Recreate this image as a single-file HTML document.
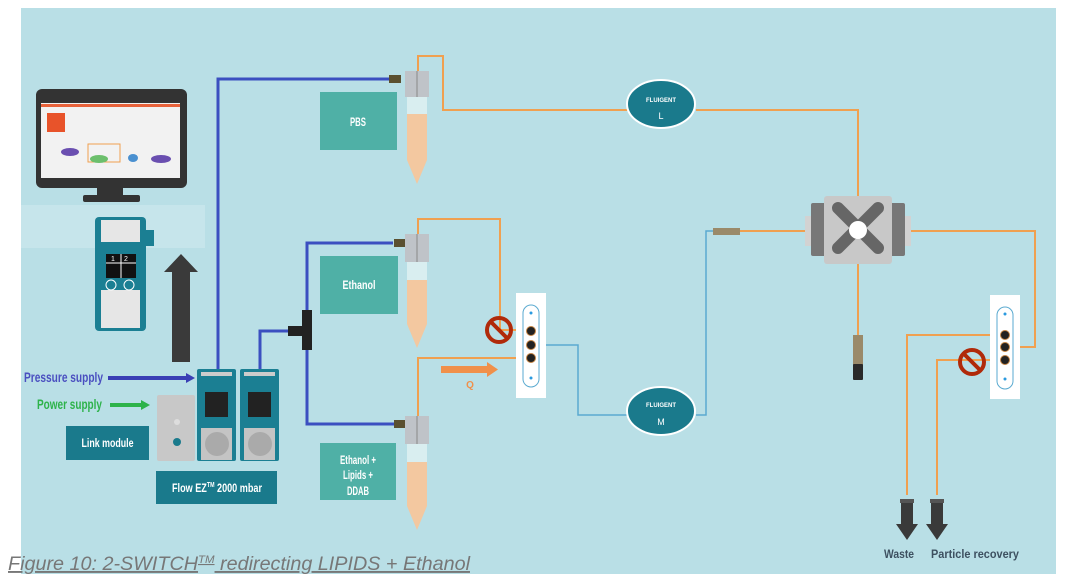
<!DOCTYPE html>
<html><head><meta charset="utf-8"><style>
html,body{margin:0;padding:0;background:#fff;width:1065px;height:586px;overflow:hidden}
svg{display:block}
.c{font-family:"Liberation Sans Narrow","Liberation Sans",sans-serif;font-weight:bold}
</style></head><body>
<svg width="1065" height="586" viewBox="0 0 1065 586" xmlns="http://www.w3.org/2000/svg">
<rect x="21" y="8" width="1035" height="566" fill="#b9dfe6"/>
<rect x="21" y="205" width="184" height="43" fill="#c6e5eb"/>
<!-- monitor -->
<rect x="36" y="89" width="151" height="99" rx="6" fill="#333"/>
<rect x="41" y="103" width="139" height="75" fill="#f2f2f2"/>
<rect x="41" y="104" width="139" height="3" fill="#e8623a"/>
<rect x="47" y="113" width="18" height="19" fill="#e8532a"/>
<rect x="88" y="144" width="32" height="18" fill="none" stroke="#f0a050"/>
<ellipse cx="70" cy="152" rx="9" ry="4" fill="#6a4fb0"/>
<ellipse cx="99" cy="159" rx="9" ry="4" fill="#6cbf6c"/>
<ellipse cx="133" cy="158" rx="5" ry="4" fill="#4a90d0"/>
<ellipse cx="161" cy="159" rx="10" ry="4" fill="#6a4fb0"/>
<rect x="97" y="188" width="26" height="9" fill="#333"/>
<rect x="83" y="195" width="57" height="7" rx="2" fill="#333"/>
<!-- switch device -->
<rect x="95" y="217" width="51" height="114" rx="4" fill="#1b7f93"/>
<rect x="101" y="220" width="39" height="22" fill="#e6e6e6"/>
<rect x="101" y="290" width="39" height="38" fill="#e6e6e6"/>
<rect x="146" y="230" width="8" height="16" fill="#1b7f93"/>
<rect x="106" y="254" width="30" height="24" fill="#111"/>
<line x1="121" y1="254" x2="121" y2="278" stroke="#fff"/><line x1="106" y1="263" x2="136" y2="263" stroke="#fff"/>
<text x="111" y="261" font-size="7" fill="#fff" font-family="Liberation Sans">1</text><text x="124" y="261" font-size="7" fill="#fff" font-family="Liberation Sans">2</text>
<circle cx="111" cy="285" r="5" fill="none" stroke="#fff"/><circle cx="129" cy="285" r="5" fill="none" stroke="#fff"/>
<!-- big up arrow -->
<rect x="172" y="268" width="18" height="94" fill="#3a3a3a"/>
<polygon points="164,272 181,254 198,272" fill="#3a3a3a"/>
<!-- supply labels -->
<text x="24" y="382" class="c" font-size="14" fill="#4a4fc0" textLength="79" lengthAdjust="spacingAndGlyphs">Pressure supply</text>
<line x1="108" y1="378" x2="188" y2="378" stroke="#3a3fb5" stroke-width="4"/>
<polygon points="186,373 195,378 186,383" fill="#3a3fb5"/>
<text x="37" y="409" class="c" font-size="14" fill="#2db34a" textLength="65" lengthAdjust="spacingAndGlyphs">Power supply</text>
<line x1="110" y1="405" x2="143" y2="405" stroke="#2db34a" stroke-width="4"/>
<polygon points="141,400 150,405 141,410" fill="#2db34a"/>
<rect x="66" y="426" width="83" height="34" fill="#1a7a8c"/>
<text x="107.5" y="447" class="c" font-size="12" fill="#fff" text-anchor="middle" textLength="52" lengthAdjust="spacingAndGlyphs">Link module</text>
<!-- link module device -->
<rect x="157" y="395" width="38" height="66" rx="2" fill="#c8c8c8"/>
<circle cx="177" cy="422" r="3" fill="#ddd"/>
<circle cx="177" cy="442" r="4" fill="#1a7a8c"/>
<!-- flow EZ -->
<g>
<rect x="197" y="369" width="39" height="92" rx="2" fill="#1b7f93"/>
<rect x="201" y="372" width="31" height="4" fill="#ccc"/>
<rect x="205" y="392" width="23" height="25" fill="#222"/>
<rect x="201" y="428" width="31" height="32" fill="#c4c4c4"/>
<circle cx="217" cy="444" r="12" fill="#aaa"/>
</g>
<g>
<rect x="240" y="369" width="39" height="92" rx="2" fill="#1b7f93"/>
<rect x="244" y="372" width="31" height="4" fill="#ccc"/>
<rect x="248" y="392" width="23" height="25" fill="#222"/>
<rect x="244" y="428" width="31" height="32" fill="#c4c4c4"/>
<circle cx="260" cy="444" r="12" fill="#aaa"/>
</g>
<rect x="156" y="471" width="121" height="33" fill="#1a7a8c"/>
<text x="172" y="492" class="c" font-size="12" fill="#fff" textLength="90" lengthAdjust="spacingAndGlyphs">Flow EZ<tspan font-size="7" dy="-5">TM</tspan><tspan dy="5"> 2000 mbar</tspan></text>
<!-- blue pressure lines -->
<g fill="none" stroke="#3b4fc0" stroke-width="3">
<polyline points="218,369 218,79 393,79"/>
<polyline points="260,369 260,331 292,331"/>
<polyline points="393,243 307,243 307,424 398,424"/>
</g>
<rect x="302" y="310" width="10" height="40" fill="#222"/>
<rect x="288" y="326" width="16" height="10" fill="#222"/>
<rect x="389" y="75" width="12" height="8" fill="#5a5030"/>
<rect x="394" y="239" width="12" height="8" fill="#5a5030"/>
<rect x="394" y="420" width="12" height="8" fill="#5a5030"/>
<!-- reservoir labels -->
<g fill="#4fb0a6"><rect x="320" y="92" width="77" height="58"/><rect x="320" y="256" width="78" height="58"/><rect x="320" y="443" width="76" height="57"/></g>
<g class="c" font-size="12" fill="#fff" text-anchor="middle">
<text x="358" y="126" textLength="16" lengthAdjust="spacingAndGlyphs">PBS</text><text x="359" y="289" textLength="33" lengthAdjust="spacingAndGlyphs">Ethanol</text>
<text x="358" y="464" textLength="36" lengthAdjust="spacingAndGlyphs">Ethanol +</text><text x="358" y="479" textLength="30" lengthAdjust="spacingAndGlyphs">Lipids +</text><text x="358" y="495" textLength="22" lengthAdjust="spacingAndGlyphs">DDAB</text></g>
<!-- orange lines -->
<g fill="none" stroke="#f0a050" stroke-width="2">
<polyline points="418,72 418,56 443,56 443,110 628,110"/>
<polyline points="696,110 858,110 858,197"/>
<polyline points="418,234 418,219 500,219 500,330 531,330"/>
<polyline points="418,416 418,358 531,358"/>
<polyline points="740,231 806,231"/>
<polyline points="908,231 1035,231 1035,347 1005,347"/>
<polyline points="1005,335 907,335 907,495"/>
<polyline points="1005,360 937,360 937,495"/>
<polyline points="858,264 858,336"/>
</g>
<!-- tubes -->
<g>
<path d="M407,96 h20 v64 l-10,24 l-10,-24z" fill="#f3c8a0"/>
<rect x="407" y="96" width="20" height="18" fill="#d9eef0"/>
<rect x="405" y="71" width="24" height="26" fill="#bfc3c8"/><line x1="417" y1="71" x2="417" y2="97" stroke="#888"/>
<path d="M407,262 h20 v62 l-10,24 l-10,-24z" fill="#f3c8a0"/>
<rect x="407" y="262" width="20" height="18" fill="#d9eef0"/>
<rect x="405" y="234" width="24" height="28" fill="#bfc3c8"/><line x1="417" y1="234" x2="417" y2="262" stroke="#888"/>
<path d="M407,444 h20 v62 l-10,24 l-10,-24z" fill="#f3c8a0"/>
<rect x="407" y="444" width="20" height="18" fill="#d9eef0"/>
<rect x="405" y="416" width="24" height="28" fill="#bfc3c8"/><line x1="417" y1="416" x2="417" y2="444" stroke="#888"/>
</g>
<!-- thin blue -->
<g fill="none" stroke="#5aaad0" stroke-width="1.5">
<polyline points="531,345 578,345 578,415 628,415"/>
<polyline points="696,415 706,415 706,231 714,231"/>
</g>
<rect x="713" y="228" width="27" height="7" fill="#9a8a6a"/>
<!-- ovals -->
<g>
<ellipse cx="661" cy="104" rx="34" ry="24" fill="#1a7a8c" stroke="#fff" stroke-width="2"/>
<text x="661" y="102" font-size="6" fill="#fff" text-anchor="middle" font-family="Liberation Sans" font-weight="bold">FLUIGENT</text>
<text x="661" y="119" font-size="9" fill="#fff" text-anchor="middle" font-family="Liberation Sans">L</text>
<ellipse cx="661" cy="411" rx="34" ry="24" fill="#1a7a8c" stroke="#fff" stroke-width="2"/>
<text x="661" y="407" font-size="6" fill="#fff" text-anchor="middle" font-family="Liberation Sans" font-weight="bold">FLUIGENT</text>
<text x="661" y="425" font-size="9" fill="#fff" text-anchor="middle" font-family="Liberation Sans">M</text>
</g>
<!-- chip -->
<rect x="805" y="216" width="106" height="30" fill="#d2d2d2"/>
<rect x="811" y="203" width="16" height="53" rx="2" fill="#777"/>
<rect x="889" y="203" width="16" height="53" rx="2" fill="#777"/>
<rect x="824" y="196" width="68" height="68" rx="3" fill="#c8c8c8"/>
<path d="M838,208 L878,248 M878,208 L838,248" stroke="#666" stroke-width="12" stroke-linecap="round"/>
<circle cx="858" cy="230" r="9" fill="#fff"/>
<!-- chip bottom connector -->
<rect x="853" y="335" width="10" height="30" fill="#9a8a6a"/>
<rect x="853" y="364" width="10" height="16" rx="1" fill="#2a2a2a"/>
<!-- switch valves -->
<rect x="516" y="293" width="30" height="105" fill="#fff"/>
<rect x="523" y="305" width="16" height="82" rx="8" fill="none" stroke="#5aaad0"/>
<circle cx="531" cy="313" r="1.5" fill="#2a9ae0"/><circle cx="531" cy="378" r="1.5" fill="#2a9ae0"/>
<g fill="#222" stroke="#c08040"><circle cx="531" cy="331" r="4.5"/><circle cx="531" cy="345" r="4.5"/><circle cx="531" cy="358" r="4.5"/></g>
<rect x="990" y="295" width="30" height="104" fill="#fff"/>
<rect x="997" y="307" width="16" height="82" rx="8" fill="none" stroke="#5aaad0"/>
<circle cx="1005" cy="314" r="1.5" fill="#2a9ae0"/><circle cx="1005" cy="379" r="1.5" fill="#2a9ae0"/>
<g fill="#222" stroke="#c08040"><circle cx="1005" cy="335" r="4.5"/><circle cx="1005" cy="347" r="4.5"/><circle cx="1005" cy="360" r="4.5"/></g>
<!-- stop signs -->
<g fill="none" stroke="#b02a0a" stroke-width="4">
<circle cx="499" cy="330" r="12"/><line x1="491" y1="322" x2="507" y2="338"/>
<circle cx="972" cy="362" r="12"/><line x1="964" y1="354" x2="980" y2="370"/>
</g>
<!-- Q arrow -->
<rect x="441" y="366" width="48" height="7" fill="#f0904a"/>
<polygon points="487,362 498,369.5 487,377" fill="#f0904a"/>
<text x="470" y="388" class="c" font-size="10" fill="#f0904a" text-anchor="middle">Q</text>
<!-- waste arrows -->
<rect x="900" y="499" width="14" height="4" fill="#555"/>
<rect x="901" y="503" width="12" height="22" fill="#3a3a3a"/>
<polygon points="896,524 918,524 907,540" fill="#3a3a3a"/>
<rect x="930" y="499" width="14" height="4" fill="#555"/>
<rect x="931" y="503" width="12" height="22" fill="#3a3a3a"/>
<polygon points="926,524 948,524 937,540" fill="#3a3a3a"/>
<text x="884" y="558" class="c" font-size="12" fill="#3d5060" textLength="30" lengthAdjust="spacingAndGlyphs">Waste</text>
<text x="931" y="558" class="c" font-size="12" fill="#3d5060" textLength="88" lengthAdjust="spacingAndGlyphs">Particle recovery</text>
<!-- caption -->
<text x="8" y="570" font-family="Liberation Sans" font-style="italic" font-size="19" fill="#777" text-decoration="underline" textLength="462" lengthAdjust="spacingAndGlyphs">Figure 10: 2-SWITCH<tspan font-size="11" dy="-7">TM</tspan><tspan dy="7"> redirecting LIPIDS  + Ethanol</tspan></text>
</svg>
</body></html>
